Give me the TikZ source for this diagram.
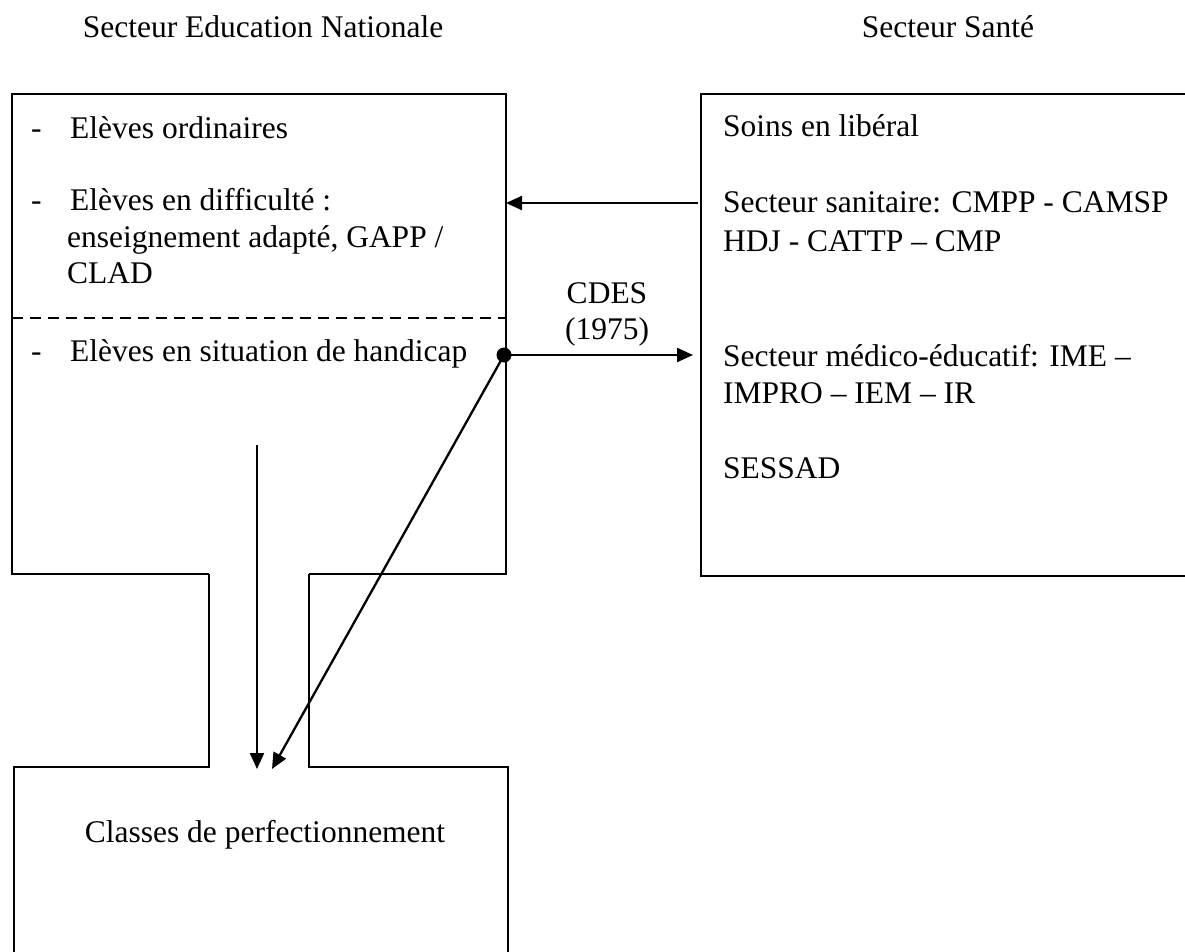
\documentclass[tikz,border=0pt]{standalone}
\usepackage{fontspec}
\setmainfont{Liberation Serif}
\usetikzlibrary{arrows.meta}
\begin{document}
\begin{tikzpicture}[x=1pt,y=-1pt,
  outline/.style={line width=2.6pt, line join=miter},
  divider/.style={line width=2.2pt, dash pattern=on 11pt off 7pt},
  conn/.style={line width=2.3pt, -{Triangle[length=16pt,width=14pt]}},
  txt/.style={anchor=base west, inner sep=0pt, font=\fontsize{31.5}{37}\selectfont},
  ctxt/.style={txt, anchor=base}]
\useasboundingbox (0,0) rectangle (1185,952);

% column headings
\node[ctxt] (hEdu) at (263,38) {Secteur Education Nationale};
\node[ctxt] (hSante) at (948,38) {Secteur Santé};

% education sector: upper block, corridor and lower block
\draw[outline] (209,574) -- (12,574) -- (12,94) -- (506,94) -- (506,574) -- (309,574);
\draw[outline] (209,574) -- (209,767) -- (14,767) -- (14,952);
\draw[outline] (309,574) -- (309,767) -- (508,767) -- (508,952);
\draw[divider] (12,318) -- (506,318);

% health sector block (open on the right)
\draw[outline] (1185,94) -- (701,94) -- (701,576) -- (1185,576);

% education sector texts
\node[txt] (d1) at (31,139) {-};
\node[txt] (e1) at (70,139) {Elèves ordinaires};
\node[txt] (d2) at (31,211) {-};
\node[txt] (e2) at (70,211) {Elèves en difficulté :};
\node[txt] (e2b) at (67,247) {enseignement adapté, GAPP /};
\node[txt] (e2c) at (67,283) {CLAD};
\node[txt] (d3) at (31,361) {-};
\node[txt] (e3) at (70,361) {Elèves en situation de handicap};
\node[ctxt] (cp) at (265,842) {Classes de perfectionnement};

% health sector texts
\node[txt] (s1) at (723,137) {Soins en libéral};
\node[txt] (s2) at (723,212) {Secteur sanitaire: CMPP - CAMSP};
\node[txt] (s2b) at (723,251) {HDJ - CATTP – CMP};
\node[txt] (s3) at (723,366) {Secteur médico-éducatif: IME –};
\node[txt] (s3b) at (723,403) {IMPRO – IEM – IR};
\node[txt] (s4) at (723,478) {SESSAD};

% CDES label
\node[ctxt] (cdes) at (607,303) {CDES};
\node[ctxt] (year) at (607,339) {(1975)};

% connector end points
\coordinate (sanL) at (698,203);
\coordinate (eduR) at (506,203);
\coordinate (dot) at (504,355);
\coordinate (medL) at (693,355);
\coordinate (vTop) at (257,445);
\coordinate (vEnd) at (257,769);
\coordinate (dEnd) at (272,769);

% connectors
\draw[conn] (sanL) -- (eduR);
\draw[conn] (dot) -- (medL);
\draw[conn] (dot) -- (dEnd);
\draw[conn] (vTop) -- (vEnd);
\fill (dot) circle (7.5pt);
\end{tikzpicture}
\end{document}
